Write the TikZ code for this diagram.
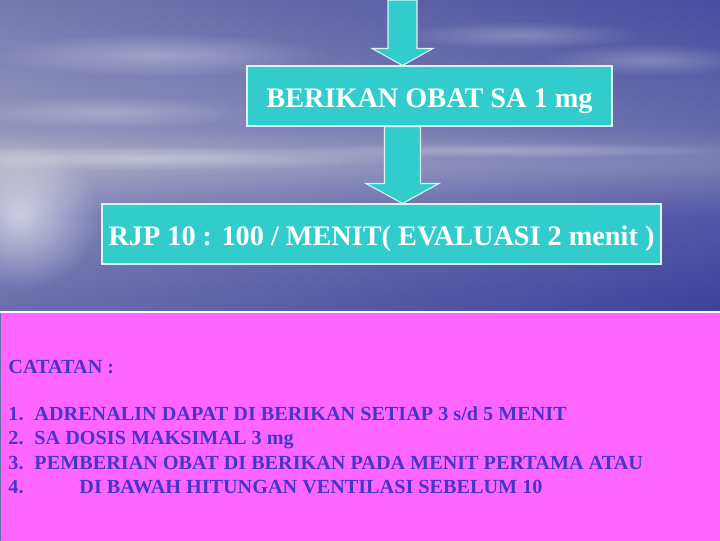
\documentclass[tikz,border=0pt]{standalone}
\usepackage{fontspec}
\setmainfont{Liberation Serif}
\newfontfamily\notefont[FakeStretch=1.01]{Liberation Serif}
\usetikzlibrary{calc,fadings}

\definecolor{boxcyan}{RGB}{51,204,204}
\definecolor{boxline}{RGB}{215,245,245}
\definecolor{notepink}{RGB}{255,102,255}
\definecolor{notetext}{RGB}{70,52,204}
\definecolor{skytop}{RGB}{98,102,200}
\definecolor{skylow}{RGB}{150,154,222}
\definecolor{horizon}{RGB}{186,188,236}
\definecolor{seanear}{RGB}{116,120,212}
\definecolor{seafar}{RGB}{72,78,190}

\pgfdeclareverticalshading{skysea}{100bp}{color(0bp)=(seafar); color(25bp)=(seafar); color(47bp)=(seafar!80!seanear); color(55bp)=(seanear); color(59.5bp)=(horizon); color(61bp)=(horizon); color(63bp)=(skylow); color(75bp)=(skytop); color(100bp)=(skytop)}
\tikzfading[name=glowfade, inner color=transparent!0, outer color=transparent!100]

\tikzset{every picture/.style={line width=0.75pt}}
\tikzset{
  stepbox/.style={draw=boxline, fill=boxcyan, line width=0.8pt, text=white, inner sep=0pt,
    minimum height=45pt, text height=17pt, text depth=0pt, font=\fontsize{21.2}{25}\selectfont\bfseries},
  arrowbody/.style={draw=boxline, fill=boxcyan, line width=0.8pt},
  notebox/.style={fill=notepink, draw=none, inner sep=0pt},
  noteline/.style={text=notetext, inner sep=0pt, anchor=base west, font=\fontsize{15}{18}\notefont\bfseries},
  cloud/.style={white, path fading=glowfade}
}

% from, to, shaft half width, head half width, head length
\newcommand{\blockarrow}[5]{%
  \draw[arrowbody] ($(#1)+(-#3,0)$) -- ($(#2)+(-#3,-#5)$) -- ($(#2)+(-#4,-#5)$) -- (#2)
    -- ($(#2)+(#4,-#5)$) -- ($(#2)+(#3,-#5)$) -- ($(#1)+(#3,0)$) -- cycle ;}
\newcommand{\itemno}[1]{\makebox[19.5pt][l]{#1}}

\begin{document}
\begin{tikzpicture}[x=0.75pt,y=0.75pt,yscale=-1,xscale=1]
	\useasboundingbox (0,0) rectangle (720,540);

	%Background sky and sea
	\shade[shading=skysea] (0,0) rectangle (720,540);
	\fill[left color=white, right color=seafar, opacity=0.25] (0,0) rectangle (720,540);
	\fill[cloud, opacity=0.6] (20,215) ellipse (80 and 75);
	\fill[cloud, opacity=0.35] (150,158) ellipse (280 and 12);
	\fill[cloud, opacity=0.3] (160,55) ellipse (170 and 22);
	\fill[cloud, opacity=0.25] (110,112) ellipse (150 and 16);
	\fill[cloud, opacity=0.25] (520,35) ellipse (120 and 14);
	\fill[cloud, opacity=0.25] (650,60) ellipse (110 and 16);
	\fill[cloud, opacity=0.25] (500,150) ellipse (240 and 8);

	%Shape: Rectangle [BERIKAN OBAT]
	\node[stepbox, minimum width=273.75pt] (boxObat) at (429.5,96) {BERIKAN OBAT SA 1 mg};
	%Shape: Rectangle [RJP]
	\node[stepbox, minimum width=419.25pt] (boxRjp) at (381.5,234) {RJP 10 : 100 / MENIT( EVALUASI 2 menit )};

	%Block Arrows
	\coordinate (topEdge) at (402.5,0);
	\coordinate (tipObat) at (boxObat.north -| topEdge);
	\coordinate (baseRjp) at (boxObat.south -| topEdge);
	\coordinate (tipRjp) at (boxRjp.north -| topEdge);
	\blockarrow{topEdge}{tipObat}{14.5}{30.5}{17}
	\blockarrow{baseRjp}{tipRjp}{18}{36.5}{20}

	%Shape: Rectangle [CATATAN]
	\node[notebox, anchor=north west, minimum width=540pt, minimum height=171pt] (boxCatatan) at (0,312) {};
	\draw[white, line width=1pt] (boxCatatan.north west) -- (boxCatatan.north east);

	% Text Node
	\node[noteline] (catatan) at (8,373) {CATATAN :};
	% Text Node
	\node[noteline] (item1) at (8,420) {\itemno{1.}ADRENALIN DAPAT DI BERIKAN SETIAP 3 s/d 5 MENIT};
	% Text Node
	\node[noteline] (item2) at (8,444.5) {\itemno{2.}SA DOSIS MAKSIMAL 3 mg};
	% Text Node
	\node[noteline] (item3) at (8,469) {\itemno{3.}PEMBERIAN OBAT DI BERIKAN PADA MENIT PERTAMA ATAU};
	% Text Node
	\node[noteline] (item4) at (8,493.5) {\itemno{4.}\hspace{33.75pt}DI BAWAH HITUNGAN VENTILASI SEBELUM 10};

\end{tikzpicture}
\end{document}
